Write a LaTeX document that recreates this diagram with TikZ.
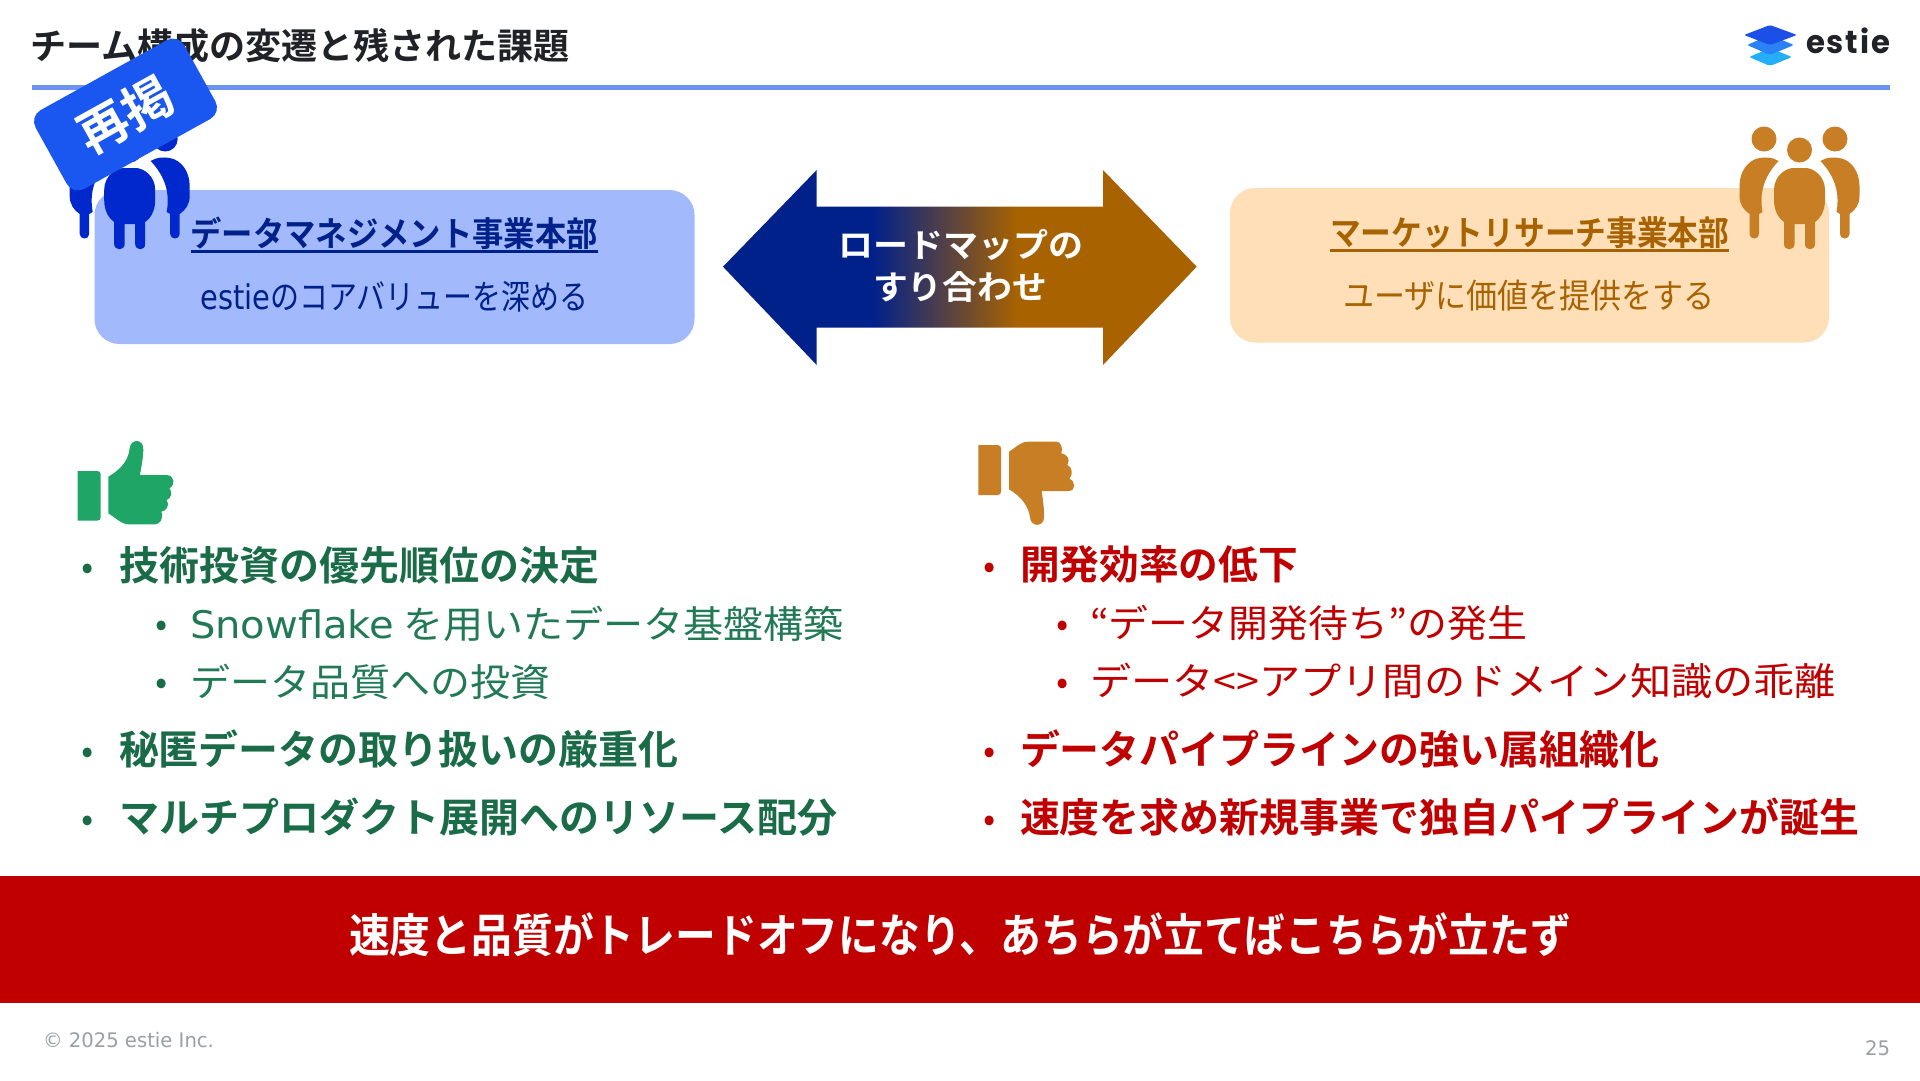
\documentclass[tikz,border=0pt]{standalone}
\usepackage{fontspec}
\usepackage{graphicx}
\setmainfont{Noto Sans CJK JP}[BoldFont={Noto Sans CJK JP Bold}]
\newfontfamily\latfont{DejaVu Sans}
\newfontfamily\logofont{Poppins}[LetterSpace=6]
\newcommand{\fsz}[1]{\fontsize{#1pt}{#1pt}\selectfont}
\newcommand{\fitw}[2]{\resizebox{#1pt}{\height}{#2}}
\definecolor{ruleblue}{HTML}{6C93F0}
\definecolor{navy}{HTML}{00208A}
\definecolor{brownor}{HTML}{A86200}
\definecolor{iconblue}{HTML}{0028CC}
\definecolor{iconor}{HTML}{C77E24}
\definecolor{boxblue}{HTML}{A2B9FB}
\definecolor{boxor}{HTML}{FFDFB8}
\definecolor{badgeblue}{HTML}{1A56F0}
\definecolor{thumbgreen}{HTML}{1FA566}
\definecolor{textgreen}{HTML}{1A6B47}
\definecolor{subgreen}{HTML}{217A55}
\definecolor{alertred}{HTML}{C00000}
\definecolor{titleblack}{HTML}{1F2226}
\definecolor{footgray}{HTML}{9A9FA3}
\definecolor{logoa}{HTML}{1B4FE8}
\definecolor{logob}{HTML}{2B82F6}
\definecolor{logoc}{HTML}{25AEF8}
\pgfdeclarehorizontalshading{navyorange}{100bp}{color(0bp)=(navy); color(40.8bp)=(navy); color(56bp)=(brownor); color(100bp)=(brownor)}
\tikzset{
  txt/.style={anchor=base west,inner sep=0,outer sep=0},
  mid/.style={anchor=base,inner sep=0,outer sep=0},
  mainpt/.style={txt,text=textgreen,font=\fsz{40}\bfseries},
  subpt/.style={txt,text=subgreen,font=\fsz{38}},
  redpt/.style={txt,text=alertred,font=\fsz{40}\bfseries},
  redsub/.style={txt,text=alertred,font=\fsz{38}},
  bulg/.style={mid,text=textgreen,font=\fsz{36}},
  bulr/.style={mid,text=alertred,font=\fsz{36}}
}
\newcommand{\people}[2]{% cx, colour
  \begin{scope}[shift={(#1,0)},fill=#2]
    \fill (-35.5,139) circle (12.5);
    \fill (35.5,139) circle (12.5);
    \fill (0,150) circle (12.5);
    \foreach \s in {1,-1}{
      \begin{scope}[xscale=\s]
      \fill (-21,161) .. controls (-27,157) and (-34,157) .. (-40,158)
        .. controls (-52,160) and (-60,172) .. (-60,186)
        -- (-60,196) .. controls (-60,204) and (-56,210) .. (-50,214)
        -- (-50,234) .. controls (-50,240) and (-40.5,240) .. (-40.5,234)
        -- (-40.5,214) -- (-37,212)
        .. controls (-40,195) and (-37,178) .. (-21,161) -- cycle;
      \end{scope}
    }
    \fill (-25.5,190) .. controls (-25.5,176) and (-14,168) .. (-6,168) -- (6,168)
      .. controls (14,168) and (25.5,176) .. (25.5,190) -- (25.5,200)
      .. controls (25.5,212) and (20,219) .. (15.5,222)
      -- (15.5,244) .. controls (15.5,251) and (5.5,251) .. (5.5,244) -- (5.5,224) -- (-5,224)
      -- (-5,244) .. controls (-5,251) and (-15.5,251) .. (-15.5,244) -- (-15.5,222)
      .. controls (-20,219) and (-25.5,212) .. (-25.5,200) -- cycle;
  \end{scope}
}
\begin{document}
\begin{tikzpicture}[x=1pt,y=-1pt]
\useasboundingbox (0,0) rectangle (1920,1080);
\fill[white] (0,0) rectangle (1920,1080);
% header
\node[txt,text=titleblack,font=\fsz{36}\bfseries] (title) at (30,59) {\fitw{540}{チーム構成の変遷と残された課題}};
\fill[ruleblue] (32,85) rectangle (1890,90);
% logo
\fill[logoc,rounded corners=2pt] (1749,57) -- (1770,48) -- (1792,57) -- (1770,66) -- cycle;
\fill[logob,rounded corners=2pt] (1747,45) -- (1770,35) -- (1794,45) -- (1770,55) -- cycle;
\fill[logoa,rounded corners=2pt] (1744,35) -- (1770,25) -- (1797,35) -- (1770,45) -- cycle;
\node[txt,text=titleblack,font=\logofont\fsz{32}\bfseries] (logotext) at (1806,53) {\fitw{84}{estie}};
% dept boxes
\fill[boxblue,rounded corners=25pt] (94.5,190) rectangle (694.5,344);
\fill[boxor,rounded corners=25pt] (1230,188) rectangle (1829,342.5);
\people{129.7}{iconblue}
\people{1799.5}{iconor}
% badge
\node[fill=badgeblue,rounded corners=13pt,minimum width=170pt,minimum height=90pt,rotate=29,inner sep=0,text=white,font=\fsz{50}\bfseries] (badge) at (125.5,114.5) {再掲};
% dept text
\node[txt,text=navy,font=\fsz{34}\bfseries] (dm) at (190.5,246) {\fitw{407.5}{データマネジメント事業本部}};
\draw[navy,line width=2.2pt] ([yshift=-5.5pt]dm.base west) -- ([yshift=-5.5pt]dm.base east);
\node[txt,text=navy,font=\fsz{34}] (dmsub) at (200.6,309.5) {\fitw{387.4}{{\latfont estie}のコアバリューを深める}};
\node[txt,text=brownor,font=\fsz{34}\bfseries] (mr) at (1330,245) {\fitw{399.4}{マーケットリサーチ事業本部}};
\draw[brownor,line width=2.2pt] ([yshift=-5.5pt]mr.base west) -- ([yshift=-5.5pt]mr.base east);
\node[txt,text=brownor,font=\fsz{34}] (mrsub) at (1343,308) {\fitw{372}{ユーザに価値を提供をする}};
% arrow
\path[shading=navyorange] (723,266.7) -- (816.7,170) -- (816.7,206.7) -- (1103,206.7) -- (1103,170) -- (1196.7,266.7) -- (1103,365) -- (1103,327.7) -- (816.7,327.7) -- (816.7,365) -- cycle;
\node[txt,text=white,font=\fsz{33}\bfseries] (a1) at (838,257) {\fitw{245}{ロードマップの}};
\node[txt,text=white,font=\fsz{33}\bfseries] (a2) at (873,299) {\fitw{174}{すり合わせ}};
% thumb up
\begin{scope}[shift={(60,430)},scale=1/3]
\fill[thumbgreen] (53,123) -- (112,123) .. controls (118,123) and (122,127) .. (122,133) -- (122,262) .. controls (122,268) and (118,272) .. (112,272) -- (53,272) -- cycle;
\fill[thumbgreen] (145,140) .. controls (170,125) and (205,100) .. (209,55)
  .. controls (212,25) and (252,25) .. (250,60) .. controls (249,90) and (243,115) .. (240,135)
  -- (318,135) .. controls (345,135) and (347,165) .. (328,175)
  .. controls (338,185) and (335,205) .. (320,210) .. controls (330,225) and (320,243) .. (304,245)
  .. controls (312,265) and (300,283) .. (285,283) -- (205,283) .. controls (185,283) and (165,262) .. (145,250) -- cycle;
\end{scope}
% thumb down
\begin{scope}[shift={(960,430)},scale=1/3]
\fill[iconor] (55,45) -- (113,45) .. controls (119,45) and (123,49) .. (123,55) -- (123,185) .. controls (123,191) and (119,195) .. (113,195) -- (55,195) -- cycle;
\fill[iconor] (147,65) .. controls (165,55) and (180,35) .. (205,35) -- (290,35)
  .. controls (302,35) and (310,55) .. (304,70) .. controls (322,72) and (332,90) .. (322,105)
  .. controls (337,110) and (340,135) .. (328,146) .. controls (348,155) and (348,183) .. (325,183)
  -- (245,183) .. controls (248,205) and (253,235) .. (252,262)
  .. controls (252,292) and (212,292) .. (210,262) .. controls (206,230) and (185,200) .. (147,178) -- cycle;
\end{scope}
% left list
\node[bulg] (gb1) at (88,579) {•};
\node[mainpt] (g1) at (119,580) {\fitw{480}{技術投資の優先順位の決定}};
\node[bulg] (gb2) at (162,636) {•};
\node[subpt] (g2) at (190,638) {\fitw{654}{{\latfont Snowflake} を用いたデータ基盤構築}};
\node[bulg] (gb3) at (162,694) {•};
\node[subpt] (g3) at (190,696) {\fitw{360}{データ品質への投資}};
\node[bulg] (gb4) at (88,763) {•};
\node[mainpt] (g4) at (119,764) {\fitw{559}{秘匿データの取り扱いの厳重化}};
\node[bulg] (gb5) at (88,831) {•};
\node[mainpt] (g5) at (119,832) {\fitw{719}{マルチプロダクト展開へのリソース配分}};
% right list
\node[bulr] (rb1) at (990,578) {•};
\node[redpt] (r1) at (1020,579) {\fitw{278}{開発効率の低下}};
\node[bulr] (rb2) at (1063,636) {•};
\node[redsub] (r2) at (1090,637) {\fitw{437}{“データ開発待ち”の発生}};
\node[bulr] (rb3) at (1063,694) {•};
\node[redsub] (r3) at (1090,695) {\fitw{746}{データ<>アプリ間のドメイン知識の乖離}};
\node[bulr] (rb4) at (990,763) {•};
\node[redpt] (r4) at (1020,764) {\fitw{639}{データパイプラインの強い属組織化}};
\node[bulr] (rb5) at (990,831) {•};
\node[redpt] (r5) at (1020,832) {\fitw{839}{速度を求め新規事業で独自パイプラインが誕生}};
% banner
\fill[alertred] (0,875.5) rectangle (1920,1003);
\node[txt,text=white,font=\fsz{46}\bfseries] (ban) at (349,952) {\fitw{1222}{速度と品質がトレードオフになり、あちらが立てばこちらが立たず}};
% footer
\node[txt,text=footgray,font=\latfont\fsz{20}] (copy) at (43,1047) {\fitw{171}{© 2025 estie Inc.}};
\node[txt,text=footgray,font=\latfont\fsz{20}] (page) at (1865,1055) {\fitw{25}{25}};
\end{tikzpicture}
\end{document}
